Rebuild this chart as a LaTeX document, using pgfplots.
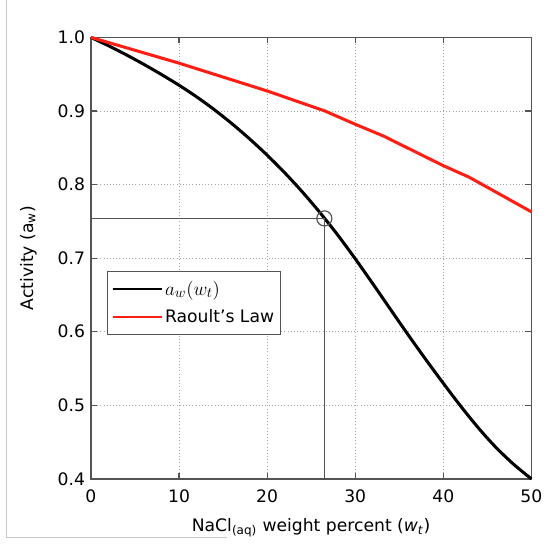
\documentclass[border=0pt]{standalone}
\usepackage{fontspec}
\setmainfont{DejaVu Sans}
\setsansfont{DejaVu Sans}
\usepackage{pgfplots}
\pgfplotsset{compat=1.18}

\definecolor{axgray}{gray}{0.33}
\definecolor{raoult}{RGB}{255,30,20}

\begin{document}
\fontsize{13}{15}\selectfont
\begin{tikzpicture}
\begin{axis}[name=ax,
  width=333.2pt,height=334pt,scale only axis,
  xmin=0,xmax=50,ymin=0.4,ymax=1.0,
  xtick={0,10,20,30,40,50},
  ytick={0.4,0.5,0.6,0.7,0.8,0.9,1.0},
  /pgf/number format/assume math mode=true,
  tick align=inside,major tick length=4.5pt,
  tick style={axgray,line width=0.8pt},
  axis line style={axgray,line width=1.2pt},
  grid=major,
  major grid style={gray!70,dotted,line width=0.6pt},
  xticklabel style={font=\fontsize{13}{15}\selectfont,yshift=-4pt},
  yticklabel style={font=\fontsize{13}{15}\selectfont,xshift=0pt,
    /pgf/number format/fixed,/pgf/number format/fixed zerofill,
    /pgf/number format/precision=1},
  xlabel={NaCl\textsubscript{(aq)} weight percent (\textit{w}\textsubscript{\textit{t}})},
  ylabel={Activity (a\textsubscript{w})},
  label style={font=\fontsize{13}{15}\selectfont},
  xlabel style={yshift=-2.5pt},
  ylabel style={yshift=7pt},
  legend cell align=left,
  legend style={at={(rel axis cs:0.037,0.471)},anchor=north west,
    draw=axgray,line width=0.9pt,font=\fontsize{13}{15}\selectfont,
    inner xsep=3pt,inner ysep=5pt,row sep=5pt},
  legend image code/.code={\draw[#1] (0pt,0pt) -- (24pt,0pt);
    \path (0pt,0pt) -- (37pt,0pt);},
  legend image post style={line width=1.3pt},
  clip=false]
  \addplot[black,line width=2.3pt,smooth] coordinates {
    (0,1.0)(2,0.9886)(4,0.9764)(6,0.9634)(8,0.9496)(10,0.9350)
    (12,0.9192)(14,0.9018)(16,0.8828)(18,0.8622)(20,0.8400)
    (22,0.8160)(24,0.7900)(26,0.7619)(28,0.7317)(30,0.6992)
    (32,0.6652)(34,0.6305)(36,0.5960)(38,0.5625)(40,0.5300)
    (42,0.4985)(44,0.4690)(46,0.4425)(48,0.4197)(50,0.4000)};
  \addlegendentry{\fontsize{15}{17}\selectfont$a_w(w_t)$}
  \addplot[raoult,line width=2.3pt,sharp plot] coordinates {
    (0,1.0)(10,0.965)(20.06,0.927)(26.56,0.900)(30,0.882)(33.2,0.866)
    (39.95,0.826)(42.94,0.810)(50,0.763)};
  \addlegendentry{Raoult's Law}
  \addplot[axgray,line width=1.1pt,forget plot] coordinates {(0,0.754)(26.5,0.754)(26.5,0.4)};
  \addplot[axgray,only marks,mark=o,mark size=5.7pt,mark options={line width=0.9pt},forget plot]
    coordinates {(26.5,0.754)};
\end{axis}
\path ([shift={(-68.8pt,-47.5pt)}]ax.south west) rectangle ([shift={(9pt,28pt)}]ax.north east);
\draw[gray!45,line width=0.6pt] ([shift={(-63.8pt,28pt)}]ax.north west) -- ([shift={(-63.8pt,-44.5pt)}]ax.south west)
  -- ([shift={(-63.8pt,-44.5pt)}]ax.south west -| ax.south) ;
\end{tikzpicture}
\end{document}
